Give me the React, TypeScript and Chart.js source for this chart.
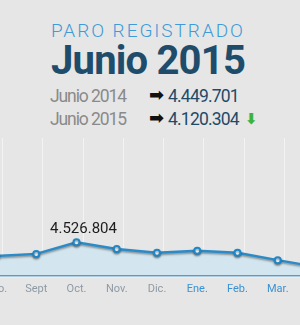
import React, { useEffect, useRef } from "react";
import { Chart, registerables } from "chart.js";

Chart.register(...registerables);

const months = ["Ago.", "Sept", "Oct.", "Nov.", "Dic.", "Ene.", "Feb.", "Mar.", "Abr."];
const paro = [4470000, 4479000, 4526804, 4499000, 4484000, 4492000, 4484000, 4453000, 4424000];
const highlightIndex = 2;
const highlightLabel = "4.526.804";
const labelColors = ["#8e9aa4", "#8e9aa4", "#8e9aa4", "#8e9aa4", "#8e9aa4", "#3b91d2", "#3b91d2", "#3b91d2", "#3b91d2"];

const title = "PARO REGISTRADO";
const subtitle = "Junio 2015";
const rowLabels = ["Junio 2014", "Junio 2015"];
const rowValues = ["4.449.701", "4.120.304"];

const Y_MIN = 4388000;
const Y_MAX = 4388000 + 4000 * 143;

export default function App() {
  const canvasRef = useRef<HTMLCanvasElement | null>(null);

  useEffect(() => {
    document.body.style.margin = "0";
    const canvas = canvasRef.current;
    if (!canvas) return;

    const decor = {
      id: "decor",
      beforeDatasetsDraw(chart: any) {
        const { ctx, chartArea } = chart;
        const xs = chart.scales.x;
        ctx.save();
        ctx.strokeStyle = "#f3f3f3";
        ctx.lineWidth = 1;
        for (let i = 0; i < months.length; i++) {
          const x = Math.round(xs.getPixelForValue(i) + 6) + 0.5;
          ctx.beginPath();
          ctx.moveTo(x, chartArea.top);
          ctx.lineTo(x, chartArea.bottom);
          ctx.stroke();
        }
        ctx.restore();
      },
      beforeDatasetDraw(chart: any) {
        const ctx = chart.ctx;
        ctx.save();
        ctx.shadowColor = "rgba(40,40,40,0.45)";
        ctx.shadowOffsetY = 1.5;
        ctx.shadowBlur = 2;
      },
      afterDatasetDraw(chart: any) {
        chart.ctx.restore();
      },
      afterDatasetsDraw(chart: any) {
        const { ctx, chartArea } = chart;
        ctx.save();
        ctx.strokeStyle = "#4f9fd6";
        ctx.lineWidth = 1.5;
        ctx.beginPath();
        ctx.moveTo(chartArea.left - 40, chartArea.bottom);
        ctx.lineTo(chartArea.right + 40, chartArea.bottom);
        ctx.stroke();
        ctx.strokeStyle = "#f2eeee";
        ctx.lineWidth = 1;
        ctx.beginPath();
        ctx.moveTo(chartArea.left - 40, chartArea.bottom + 1.5);
        ctx.lineTo(chartArea.right + 40, chartArea.bottom + 1.5);
        ctx.stroke();
        const meta = chart.getDatasetMeta(0);
        const pt = meta.data[highlightIndex];
        ctx.fillStyle = "#1d1d1d";
        ctx.font = "15px Roboto";
        ctx.textAlign = "center";
        ctx.textBaseline = "middle";
        ctx.fillText(highlightLabel, pt.x + 7, pt.y - 13);
        ctx.restore();
      },
    };

    const chart = new Chart(canvas, {
      type: "line",
      data: {
        labels: months,
        datasets: [
          {
            data: paro,
            borderColor: "#2b8bc8",
            borderWidth: 2.5,
            backgroundColor: "#d3e5ee",
            fill: "start",
            tension: 0,
            pointRadius: 3,
            pointBorderWidth: 2,
            pointBackgroundColor: "#ffffff",
            pointBorderColor: "#1f86c8",
          },
        ],
      },
      options: {
        animation: false,
        responsive: false,
        maintainAspectRatio: false,
        layout: { padding: { left: 20, right: 20, top: 0, bottom: 22 } },
        plugins: { legend: { display: false }, tooltip: { enabled: false } },
        scales: {
          x: {
            grid: { display: false, drawTicks: false },
            border: { display: false },
            ticks: {
              padding: 7,
              autoSkip: false,
              maxRotation: 0,
              font: { family: "Roboto", size: 11 },
              color: (c: any) => labelColors[c.index] || "#8e9aa4",
            },
          },
          y: { display: false, min: Y_MIN, max: Y_MAX },
        },
      },
      plugins: [decor],
    });
    return () => chart.destroy();
  }, []);

  const rowStyle: React.CSSProperties = {
    position: "absolute",
    left: 50,
    fontFamily: "Roboto",
    fontSize: 17.5,
    lineHeight: "20px",
    whiteSpace: "nowrap",
  };

  return (
    <div style={{ position: "relative", width: 300, height: 325, overflow: "hidden", background: "#e6e6e6" }}>
      <div
        style={{
          position: "absolute",
          left: 51,
          top: 20,
          fontFamily: "Roboto",
          fontWeight: 300,
          fontSize: 19,
          letterSpacing: 1.95,
          color: "#3d9bd8",
          lineHeight: "22px",
          whiteSpace: "nowrap",
        }}
      >
        {title}
      </div>
      <div
        style={{
          position: "absolute",
          left: 51,
          top: 38,
          fontFamily: "Roboto",
          fontWeight: 700,
          fontSize: 40,
          letterSpacing: -0.8,
          color: "#1f4c6b",
          lineHeight: "46px",
          whiteSpace: "nowrap",
        }}
      >
        {subtitle}
      </div>
      {rowLabels.map((lab, i) => (
        <div key={lab} style={{ ...rowStyle, top: 86 + i * 23 }}>
          <span style={{ color: "#8a8a8a", letterSpacing: -1.1 }}>{lab}</span>
          <span
            style={{
              position: "absolute",
              left: 99,
              top: -1,
              fontFamily: "DejaVu Sans",
              fontWeight: 700,
              fontSize: 18,
              color: "#111",
            }}
          >
            ➡
          </span>
          <span style={{ position: "absolute", left: 118, top: 0, color: "#1f4a69", letterSpacing: -0.8 }}>
            {rowValues[i]}
          </span>
          {i === 1 && (
            <span
              style={{
                position: "absolute",
                left: 195,
                top: 0,
                fontFamily: "DejaVu Sans",
                fontWeight: 700,
                fontSize: 15,
                color: "#3cb43c",
              }}
            >
              ⬇
            </span>
          )}
        </div>
      ))}
      <canvas
        ref={canvasRef}
        width={362}
        height={193}
        style={{ position: "absolute", left: -24, top: 132, width: 362, height: 193 }}
      />
    </div>
  );
}
